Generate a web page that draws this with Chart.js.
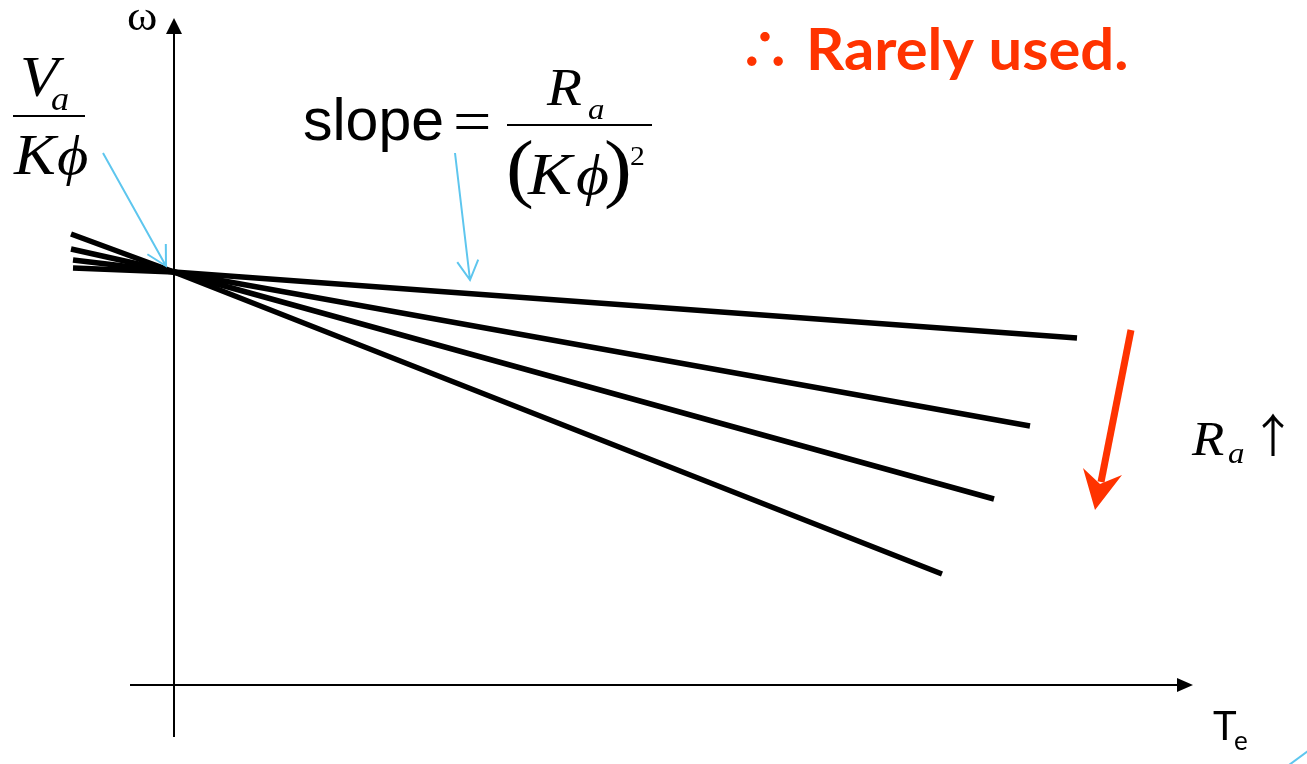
<!DOCTYPE html>
<html>
<head>
<meta charset="utf-8">
<title>Speed-torque lines, armature resistance control</title>
<script src="https://cdn.jsdelivr.net/npm/chart.js@4.4.1/dist/chart.umd.min.js"></script>
<style>
  html, body { margin: 0; padding: 0; background: #fff; overflow: hidden; }
  canvas { display: block; }
</style>
</head>
<body>
<canvas id="torqueChart" width="1307" height="764"></canvas>
<script>
// torque (x) and speed (y) for each line, left end / no-load point / right end
const torqueA = [-1.03, 0, 7.68];
const speedA  = [4.51, 4.13, 1.11];
const torqueB = [-1.03, 0, 8.20];
const speedB  = [4.36, 4.13, 1.86];
const torqueC = [-1.01, 0, 8.56];
const speedC  = [4.25, 4.13, 2.59];
const torqueD = [-1.01, 0, 9.03];
const speedD  = [4.17, 4.13, 3.47];

// visible window and axis extents
const xRange = [-1.74, 11.33];
const yRange = [-0.79, 6.85];
const xAxisSpan = [-0.44, 10.19];
const yAxisSpan = [-0.52, 6.67];

const INK = '#000';
const RED = '#ff3300';
const BLUE = '#5ec6ee';
const SERIF = '"Liberation Serif", "DejaVu Serif", serif';
const EQ_STRETCH = 1.1;

function toPoints(xs, ys) {
    return xs.map((x, i) => ({ x: x, y: ys[i] }));
}

function lineSet(xs, ys) {
    return {
        data: toPoints(xs, ys),
        borderColor: INK,
        borderWidth: 5.5,
        borderCapStyle: 'butt',
        pointRadius: 0,
        tension: 0,
        fill: false
    };
}

function arrow(ctx, x1, y1, x2, y2, color, width, head) {
    const a = Math.atan2(y2 - y1, x2 - x1);
    ctx.save();
    ctx.strokeStyle = color;
    ctx.lineWidth = width;
    ctx.beginPath();
    ctx.moveTo(x1, y1);
    ctx.lineTo(x2, y2);
    ctx.moveTo(x2 - head * Math.cos(a - 0.5), y2 - head * Math.sin(a - 0.5));
    ctx.lineTo(x2, y2);
    ctx.lineTo(x2 - head * Math.cos(a + 0.5), y2 - head * Math.sin(a + 0.5));
    ctx.stroke();
    ctx.restore();
}

function text(ctx, str, x, y, font, color, sx) {
    ctx.save();
    ctx.font = font;
    ctx.fillStyle = color || INK;
    ctx.translate(x, y);
    ctx.scale(sx || 1, 1);
    ctx.fillText(str, 0, 0);
    ctx.restore();
}

// serif math glyph, set a little wide
function eq(ctx, str, x, y, size, italic) {
    text(ctx, str, x, y, (italic ? 'italic ' : '') + size + 'px ' + SERIF, INK, EQ_STRETCH);
}

// axes with arrowheads, drawn under the lines
const axesPlugin = {
    id: 'axes',
    beforeDatasetsDraw(chart) {
        const ctx = chart.ctx;
        const xs = chart.scales.x, ys = chart.scales.y;
        const ox = xs.getPixelForValue(0), oy = ys.getPixelForValue(0);
        const xl = xs.getPixelForValue(xAxisSpan[0]), xr = xs.getPixelForValue(xAxisSpan[1]);
        const yb = ys.getPixelForValue(yAxisSpan[0]), yt = ys.getPixelForValue(yAxisSpan[1]);
        ctx.save();
        ctx.strokeStyle = INK;
        ctx.fillStyle = INK;
        ctx.lineWidth = 2;
        ctx.beginPath();
        ctx.moveTo(xl, oy);
        ctx.lineTo(xr - 12, oy);
        ctx.moveTo(ox, yb);
        ctx.lineTo(ox, yt + 12);
        ctx.stroke();
        ctx.beginPath();
        ctx.moveTo(xr, oy);
        ctx.lineTo(xr - 16, oy - 7);
        ctx.lineTo(xr - 16, oy + 7);
        ctx.closePath();
        ctx.moveTo(ox, yt);
        ctx.lineTo(ox - 8, yt + 16);
        ctx.lineTo(ox + 8, yt + 16);
        ctx.closePath();
        ctx.fill();
        ctx.restore();
    }
};

// formulas, callouts and axis names
const notesPlugin = {
    id: 'notes',
    afterDraw(chart) {
        const ctx = chart.ctx;
        ctx.save();
        ctx.textBaseline = 'alphabetic';

        // axis names
        text(ctx, 'ω', 127, 30, '42px ' + SERIF, INK, 1.1);
        text(ctx, 'T', 1213, 740, '40px Lato, sans-serif');
        text(ctx, 'e', 1234, 750, '26px Lato, sans-serif');

        // Va / Kϕ
        eq(ctx, 'V', 20, 96, 57, true);
        eq(ctx, 'a', 51, 110, 33, true);
        ctx.fillRect(13, 115, 72, 2);
        eq(ctx, 'K', 14, 174, 57, true);
        eq(ctx, 'ϕ', 57, 174, 55, true);

        // slope = Ra / (Kϕ)^2
        text(ctx, 'slope', 303, 140, '59px "Liberation Sans", Arial, sans-serif');
        eq(ctx, '=', 453, 142, 62, false);
        eq(ctx, 'R', 547, 105, 52, true);
        eq(ctx, 'a', 588, 119, 30, true);
        ctx.fillRect(507, 124, 145, 2);
        eq(ctx, '(', 506, 193, 76, false);
        eq(ctx, 'K', 528, 194, 60, true);
        eq(ctx, 'ϕ', 576, 194, 58, true);
        eq(ctx, ')', 604, 193, 76, false);
        eq(ctx, '2', 630, 165, 27, false);

        // Ra ↑
        eq(ctx, 'R', 1192, 455, 48, true);
        eq(ctx, 'a', 1228, 463, 30, true);
        text(ctx, '↑', 1250, 452, '46px "Noto Sans CJK JP", "DejaVu Sans", sans-serif');

        // conclusion
        text(ctx, '∴', 738, 70, 'bold 54px "Noto Sans CJK JP", "DejaVu Sans", sans-serif', RED);
        text(ctx, 'Rarely used.', 806, 70, 'bold 58px Lato, sans-serif', RED, 1.03);

        // pointers
        arrow(ctx, 103, 153, 166, 266, BLUE, 2, 22);
        arrow(ctx, 455, 153, 470, 280, BLUE, 2, 22);
        ctx.strokeStyle = BLUE;
        ctx.lineWidth = 2;
        ctx.beginPath();
        ctx.moveTo(1289, 765);
        ctx.lineTo(1308, 751);
        ctx.stroke();

        // red direction arrow
        ctx.strokeStyle = RED;
        ctx.fillStyle = RED;
        ctx.lineWidth = 7;
        ctx.beginPath();
        ctx.moveTo(1131, 330);
        ctx.lineTo(1101, 482);
        ctx.stroke();
        ctx.beginPath();
        ctx.moveTo(1095, 510);
        ctx.lineTo(1083, 468);
        ctx.lineTo(1100, 484);
        ctx.lineTo(1122, 475);
        ctx.closePath();
        ctx.fill();

        ctx.restore();
    }
};

document.addEventListener('DOMContentLoaded', () => {
    const ctx = document.getElementById('torqueChart').getContext('2d');
    new Chart(ctx, {
        type: 'line',
        data: {
            datasets: [
                lineSet(torqueA, speedA),
                lineSet(torqueB, speedB),
                lineSet(torqueC, speedC),
                lineSet(torqueD, speedD)
            ]
        },
        options: {
            responsive: false,
            animation: false,
            devicePixelRatio: 1,
            layout: { padding: 0 },
            scales: {
                x: { type: 'linear', min: xRange[0], max: xRange[1], display: false },
                y: { type: 'linear', min: yRange[0], max: yRange[1], display: false }
            },
            plugins: {
                legend: { display: false },
                tooltip: { enabled: false }
            }
        },
        plugins: [axesPlugin, notesPlugin]
    });
});
</script>
</body>
</html>
